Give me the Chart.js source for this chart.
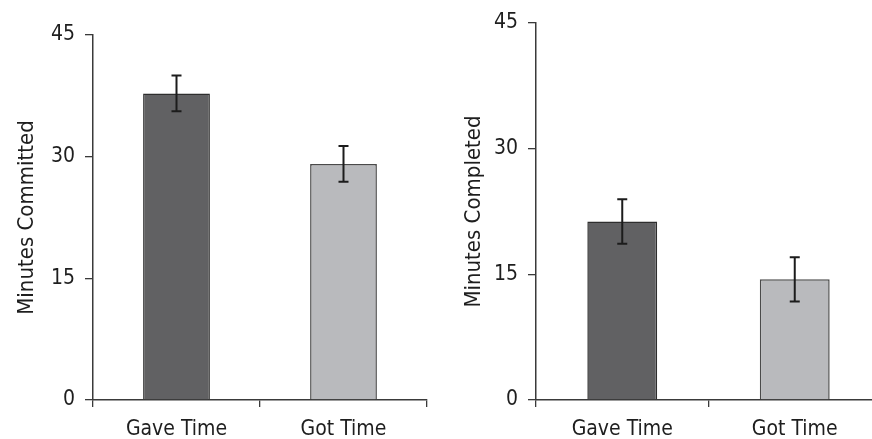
<!DOCTYPE html>
<html>
<head>
<meta charset="utf-8">
<script src="https://cdn.jsdelivr.net/npm/chart.js@4.4.1/dist/chart.umd.min.js"></script>
<style>
  html, body { margin: 0; padding: 0; background: #fff; overflow: hidden; }
  body { width: 872px; height: 439px; position: relative; }
  .wrap { position: absolute; top: 0; height: 439px; }
  #leftWrap { left: 0; width: 436px; }
  #rightWrap { left: 436px; width: 450px; }
</style>
</head>
<body>
<div class="wrap" id="leftWrap"><canvas id="committedChart" width="436" height="439"></canvas></div>
<div class="wrap" id="rightWrap"><canvas id="completedChart" width="450" height="439"></canvas></div>
<script>
const categories = ['Gave Time', 'Got Time'];
const committedMeans = [37.8, 29.1];
const committedErr = [2.2, 2.2];
const completedMeans = [21.3, 14.4];
const completedErr = [2.65, 2.65];
const yTicks = [0, 15, 30, 45];
const barFill = ['#616163', '#b9babd'];
const barEdge = ['#2e2e2e', '#4a4a4a'];

Chart.defaults.font.family = "'DejaVu Sans Condensed', 'DejaVu Sans', sans-serif";
Chart.defaults.color = '#1e1e1e';

const errorBars = {
  id: 'errorBars',
  afterDatasetsDraw(chart, args, opts) {
    const { ctx, scales: { y } } = chart;
    const meta = chart.getDatasetMeta(0);
    const means = chart.data.datasets[0].data;
    ctx.save();
    ctx.strokeStyle = '#1c1c1c';
    ctx.lineWidth = 2;
    meta.data.forEach((bar, i) => {
      const hi = y.getPixelForValue(means[i] + opts.err[i]);
      const lo = y.getPixelForValue(means[i] - opts.err[i]);
      ctx.beginPath();
      ctx.moveTo(bar.x, hi); ctx.lineTo(bar.x, lo);
      ctx.moveTo(bar.x - 5, hi); ctx.lineTo(bar.x + 5, hi);
      ctx.moveTo(bar.x - 5, lo); ctx.lineTo(bar.x + 5, lo);
      ctx.stroke();
    });
    ctx.restore();
  }
};

function makeChart(id, means, err, title, pad, yWidth, barPct) {
  return new Chart(document.getElementById(id), {
    type: 'bar',
    data: {
      labels: categories,
      datasets: [{
        data: means,
        backgroundColor: barFill,
        borderColor: barEdge,
        borderWidth: 1.5,
        barPercentage: barPct,
        categoryPercentage: 1
      }]
    },
    options: {
      responsive: false,
      animation: false,
      layout: { padding: pad },
      plugins: {
        legend: { display: false },
        tooltip: { enabled: false },
        errorBars: { err }
      },
      scales: {
        x: {
          grid: { display: true, drawOnChartArea: false, offset: true, tickLength: 7, tickColor: '#3a3a3a', lineWidth: 1.3 },
          border: { display: true, color: '#3a3a3a', width: 1.5 },
          ticks: { font: { size: 21 }, padding: 10 },
          afterFit: (s) => { s.height = 39; }
        },
        y: {
          min: 0, max: 45,
          afterBuildTicks: (s) => { s.ticks = yTicks.map(v => ({ value: v })); },
          grid: { display: true, drawOnChartArea: false, tickLength: 8, tickColor: '#3a3a3a', lineWidth: 1.3 },
          border: { display: true, color: '#3a3a3a', width: 1.5 },
          ticks: { font: { size: 21 }, padding: 10 },
          title: { display: true, text: title, font: { size: 22 }, padding: 0 },
          afterFit: (s) => { s.width = yWidth; }
        }
      }
    },
    plugins: [errorBars]
  });
}

makeChart('committedChart', committedMeans, committedErr, 'Minutes Committed',
  { left: 14, top: 35, right: 9, bottom: 0 }, 79, 0.4);
makeChart('completedChart', completedMeans, completedErr, 'Minutes Completed',
  { left: 25, top: 23, right: 5, bottom: 0 }, 75, 0.405);
</script>
</body>
</html>
